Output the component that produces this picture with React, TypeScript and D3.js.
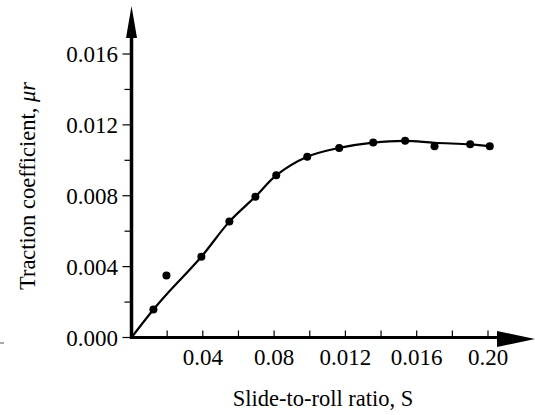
import * as d3 from "d3";

// measured points (slide-to-roll ratio, traction coefficient)
const slideRatio = [0.0123, 0.0196, 0.0392, 0.0549, 0.0695, 0.0812, 0.0986, 0.1165, 0.1356, 0.1535, 0.170, 0.190, 0.201];
const traction = [0.00158, 0.0035, 0.00456, 0.00654, 0.00795, 0.00915, 0.0102, 0.0107, 0.0110, 0.0111, 0.0108, 0.0109, 0.0108];

// fitted curve
const fitX = [0, 0.0123, 0.0196, 0.0392, 0.0549, 0.0695, 0.0812, 0.0986, 0.1165, 0.1356, 0.1535, 0.170, 0.190, 0.201];
const fitY = [0, 0.00158, 0.00243, 0.00456, 0.00654, 0.00795, 0.00915, 0.0102, 0.0107, 0.0110, 0.0111, 0.01099, 0.0109, 0.0108];

const xTicks = [0.02, 0.04, 0.06, 0.08, 0.1, 0.12, 0.14, 0.16, 0.18, 0.2];
const xLabelValues = [0.04, 0.08, 0.12, 0.16, 0.2];
const xLabels = ["0.04", "0.08", "0.012", "0.016", "0.20"];
const yMajor = [0, 0.004, 0.008, 0.012, 0.016];
const yMinor = [0.002, 0.006, 0.01, 0.014];
const yLabels = ["0.000", "0.004", "0.008", "0.012", "0.016"];

const FONT = "Liberation Serif";
const w = 535;
const h = 415;

const App = () => {
  const x = d3.scaleLinear().domain([0, 0.2]).range([131.5, 488]);
  const y = d3.scaleLinear().domain([0, 0.016]).range([337.5, 54]);
  const x0 = x(0);
  const y0 = y(0);

  const fit = fitX.map((v, i) => [v, fitY[i]] as [number, number]);
  const line = d3.line<[number, number]>()
    .x(d => x(d[0])).y(d => y(d[1]))
    .curve(d3.curveCatmullRom.alpha(0.5));

  const tickStyle = { fontFamily: FONT, fontSize: "23px" };
  const titleStyle = { fontFamily: FONT, fontSize: "22.5px" };

  return (
    <svg width={w} height={h} style={{ position: "absolute", left: 0, top: 0, background: "#fff" }}>
      {/* x ticks point up */}
      {xTicks.map(t => (
        <line key={"xt" + t} x1={x(t)} x2={x(t)} y1={y0 - 1} y2={y0 - 7} stroke="#000" strokeWidth={1.2} />
      ))}
      {/* y ticks point left */}
      {yMajor.map(t => (
        <line key={"ym" + t} x1={x0 - 1} x2={x0 - 9} y1={y(t)} y2={y(t)} stroke="#000" strokeWidth={1.2} />
      ))}
      {yMinor.map(t => (
        <line key={"yn" + t} x1={x0 - 1} x2={x0 - 7} y1={y(t)} y2={y(t)} stroke="#000" strokeWidth={1.2} />
      ))}

      {/* axes with arrow heads */}
      <line x1={x0} x2={500} y1={y0} y2={y0} stroke="#000" strokeWidth={3.2} />
      <path d="M497,331 L535,339 L497,347 Z" fill="#000" />
      <line x1={x0} x2={x0} y1={y0 + 1.5} y2={36} stroke="#000" strokeWidth={3.5} />
      <path d={`M${x0 - 5.5},38 L${x0},6 L${x0 + 5.5},38 Z`} fill="#000" />

      {/* tick labels */}
      {xLabelValues.map((v, i) => (
        <text key={"xl" + v} x={x(v)} y={365} textAnchor="middle" style={tickStyle}>{xLabels[i]}</text>
      ))}
      {yMajor.map((v, i) => (
        <text key={"yl" + v} x={118} y={y(v) + 8} textAnchor="end" style={tickStyle}>{yLabels[i]}</text>
      ))}

      {/* axis titles */}
      <text x={323} y={406} textAnchor="middle" style={titleStyle}>Slide-to-roll ratio, S</text>
      <text transform="translate(35,186) rotate(-90)" textAnchor="middle" style={titleStyle}>
        Traction coefficient, <tspan style={{ fontStyle: "italic" }}>{"\u03bcr"}</tspan>
      </text>

      {/* stray mark at left edge */}
      <line x1={0} x2={4} y1={343} y2={343} stroke="#555" strokeWidth={1} />

      {/* fitted curve */}
      <path d={line(fit) ?? ""} fill="none" stroke="#000" strokeWidth={2.2} />

      {/* data points */}
      {slideRatio.map((v, i) => (
        <circle key={"p" + i} cx={x(v)} cy={y(traction[i])} r={4} fill="#000" />
      ))}
    </svg>
  );
};

export default App;
